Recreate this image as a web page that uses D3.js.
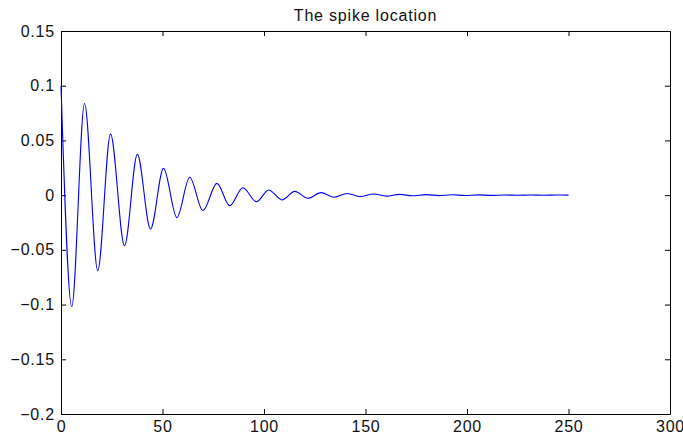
<!DOCTYPE html>
<html>
<head>
<meta charset="utf-8">
<script src="https://cdn.jsdelivr.net/npm/d3@7"></script>
<style>
    body { margin: 0; background: #fff; }
    text { font-family: "Liberation Sans", Arial, Helvetica, sans-serif; }
</style>
</head>
<body>
<div id="chart"></div>
<script>
// extrema of the trace (x = sample index, y = value)
var spikeX = [0, 5.3, 11.6, 18.1, 24.4, 31.3, 37.6, 44.1, 50.5, 57.1,
    63.4, 69.9, 76.8, 83.1, 89.6, 96.3, 102.3, 108.9, 115.2, 121.7,
    128.1, 134.6, 141, 147.5, 153.9, 160.4, 166.8, 173.3, 179.7, 186.2,
    192.6, 199.1, 205.5, 212, 218.4, 224.9, 231.3, 237.8, 244.2, 250];
var spikeY = [0.1, -0.102, 0.0838, -0.069, 0.0558, -0.0463, 0.0373, -0.031, 0.0245, -0.0205,
    0.0163, -0.0141, 0.0108, -0.0096, 0.0068, -0.006, 0.0047, -0.0044, 0.0034, -0.0028,
    0.0023, -0.0019, 0.0015, -0.0013, 0.001, -0.0009, 0.0007, -0.0006, 0.0005, -0.0004,
    0.0003, -0.0003, 0.0002, -0.0002, 0.0001, -0.0001, 0.0001, -0.0001, 0.0001, 0];

var xTicks = [0, 50, 100, 150, 200, 250, 300];
var yTicks = [-0.2, -0.15, -0.1, -0.05, 0, 0.05, 0.1, 0.15];
var title = "The spike location";

function spikePlot(el) {
    var W = 683, H = 435;
    var margin = {top: 31, right: 13, bottom: 21, left: 61};
    var width = W - margin.left - margin.right;
    var height = H - margin.top - margin.bottom;

    var svg = d3.select("#" + el).append("svg")
        .attr("width", W)
        .attr("height", H);

    var g = svg.append("g")
        .attr("transform", "translate(" + margin.left + "," + margin.top + ")");

    var x = d3.scaleLinear().domain([0, 300]).range([0, width]);
    var y = d3.scaleLinear().domain([-0.2, 0.15]).range([height, 0]);

    var fmt = function(d) {
        if (Math.abs(d) < 1e-9) return "0";
        return d3.format(".2~f")(d);
    };

    function style(sel) {
        sel.select(".domain").attr("stroke", "#000").attr("stroke-width", 1);
        sel.selectAll(".tick line").attr("stroke", "#000");
        sel.selectAll(".tick text")
            .attr("fill", "#111")
            .style("font-size", "16px")
            .style("letter-spacing", "0.8px");
    }

    // bottom + left with labels, top + right mirror ticks
    g.append("g")
        .attr("transform", "translate(0," + height + ")")
        .call(d3.axisBottom(x).tickValues(xTicks).tickFormat(fmt)
            .tickSizeInner(-5).tickSizeOuter(0).tickPadding(7))
        .call(style);

    g.append("g")
        .call(d3.axisLeft(y).tickValues(yTicks).tickFormat(fmt)
            .tickSizeInner(-5).tickSizeOuter(0).tickPadding(6))
        .call(style);

    g.append("g")
        .call(d3.axisTop(x).tickValues(xTicks).tickFormat("")
            .tickSizeInner(-5).tickSizeOuter(0))
        .call(style);

    g.append("g")
        .attr("transform", "translate(" + width + ",0)")
        .call(d3.axisRight(y).tickValues(yTicks).tickFormat("")
            .tickSizeInner(-5).tickSizeOuter(0))
        .call(style);

    var data = spikeX.map(function(d, i) { return [d, spikeY[i]]; });

    var line = d3.line()
        .x(function(d) { return x(d[0]); })
        .y(function(d) { return y(d[1]); })
        .curve(d3.curveMonotoneX);

    g.append("path")
        .datum(data)
        .attr("fill", "none")
        .attr("stroke", "#0000ff")
        .attr("stroke-width", 1.1)
        .attr("d", line);

    svg.append("text")
        .attr("x", margin.left + width / 2)
        .attr("y", 21)
        .attr("text-anchor", "middle")
        .attr("fill", "#111")
        .style("font-size", "16px")
        .style("letter-spacing", "0.8px")
        .text(title);
}

spikePlot("chart");
</script>
</body>
</html>
